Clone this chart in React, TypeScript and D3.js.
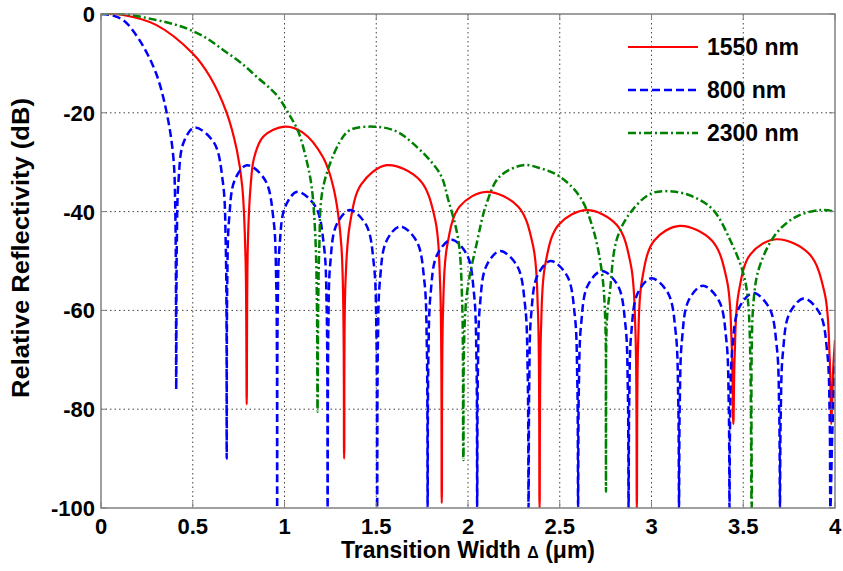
import React from 'react';
import * as d3 from 'd3';

// values: [transition width (um), relative reflectivity (dB)]
const red1550: [number, number][] = [
  [0, 0], [0.12, -0.2], [0.3, -2.2], [0.5, -8], [0.594, -12.7], [0.685, -20], [0.74, -27.5], [0.77, -35], [0.788, -50], [0.794, -79],
  [0.8, -47], [0.815, -35], [0.835, -29], [0.885, -24.8], [1.0, -22.8], [1.1, -24], [1.21, -29], [1.266, -35], [1.31, -47], [1.325, -90],
  [1.332, -54.6], [1.357, -42.4], [1.418, -34.5], [1.557, -30.6], [1.737, -33.6], [1.821, -41.6], [1.848, -54.6], [1.857, -99],
  [1.864, -60], [1.886, -47], [1.954, -39], [2.1, -36], [2.274, -39], [2.355, -47], [2.381, -60], [2.39, -100],
  [2.398, -63.7], [2.421, -50.7], [2.493, -42.7], [2.647, -39.7], [2.811, -42.7], [2.887, -50.7], [2.912, -63.7], [2.92, -100],
  [2.927, -66.9], [2.948, -53.9], [3.014, -45.9], [3.155, -42.9], [3.33, -45.9], [3.411, -53.9], [3.437, -66.9], [3.446, -83],
  [3.453, -69.6], [3.474, -56.6], [3.54, -48.6], [3.68, -45.6], [3.86, -48.6], [3.944, -56.6], [3.971, -69.6], [3.98, -83],
  [3.99, -72], [4.0, -66],
];

const blue800: [number, number][] = [
  [0, 0], [0.05, -0.2], [0.12, -1.2], [0.21, -5.3], [0.3, -12], [0.358, -20], [0.394, -28.9], [0.405, -40], [0.41, -76],
  [0.413, -47], [0.422, -34], [0.45, -26], [0.51, -23], [0.615, -26], [0.664, -34], [0.68, -47], [0.685, -90],
  [0.688, -54.6], [0.698, -41.6], [0.729, -33.6], [0.795, -30.6], [0.894, -33.6], [0.94, -41.6], [0.955, -54.6], [0.96, -100],
  [0.963, -60], [0.973, -47], [1.004, -39], [1.07, -36], [1.169, -39], [1.215, -47], [1.23, -60], [1.235, -100],
  [1.239, -63.7], [1.249, -50.7], [1.283, -42.7], [1.355, -39.7], [1.445, -42.7], [1.487, -50.7], [1.5005, -63.7], [1.505, -100],
  [1.509, -67], [1.52, -54], [1.555, -46], [1.63, -43], [1.72, -46], [1.762, -54], [1.7755, -67], [1.78, -100],
  [1.784, -69.7], [1.796, -56.7], [1.832, -48.7], [1.91, -45.7], [1.994, -48.7], [2.033, -56.7], [2.046, -69.7], [2.05, -100],
  [2.054, -72], [2.065, -59], [2.1, -51], [2.175, -48], [2.268, -51], [2.311, -59], [2.325, -72], [2.33, -100],
  [2.334, -74], [2.344, -61], [2.378, -53], [2.45, -50], [2.54, -53], [2.582, -61], [2.5955, -74], [2.6, -100],
  [2.604, -76], [2.616, -63], [2.652, -55], [2.73, -52], [2.817, -55], [2.858, -63], [2.871, -76], [2.875, -100],
  [2.879, -77.5], [2.89, -64.5], [2.925, -56.5], [3.0, -53.5], [3.09, -56.5], [3.132, -64.5], [3.1455, -77.5], [3.15, -100],
  [3.154, -79], [3.166, -66], [3.202, -58], [3.28, -55], [3.367, -58], [3.408, -66], [3.421, -79], [3.425, -100],
  [3.429, -80.5], [3.441, -67.5], [3.477, -59.5], [3.555, -56.5], [3.642, -59.5], [3.683, -67.5], [3.696, -80.5], [3.7, -100],
  [3.704, -81.6], [3.716, -68.6], [3.752, -60.6], [3.83, -57.6], [3.917, -60.6], [3.958, -68.6], [3.971, -81.6], [3.975, -100],
  [3.985, -85], [4.0, -70],
];

const green2300: [number, number][] = [
  [0, 0], [0.12, 0], [0.3, -1.2], [0.4, -2.1], [0.485, -3.2], [0.58, -5], [0.666, -7.3], [0.76, -9.8], [0.848, -12.7], [0.957, -16.4],
  [1.02, -20], [1.075, -23.8], [1.12, -29.6], [1.148, -35], [1.168, -45], [1.177, -60], [1.18, -80.5],
  [1.189, -48], [1.211, -35], [1.3, -26], [1.357, -23.5], [1.484, -22.8], [1.6, -23.6], [1.7, -26.2], [1.847, -32.3], [1.893, -37.7], [1.947, -45.7], [1.968, -58], [1.975, -90.3],
  [1.99, -58], [2.05, -46], [2.1, -38.5], [2.17, -33], [2.3, -30.6], [2.4, -31.3], [2.5, -32.9], [2.61, -37], [2.683, -43.7], [2.73, -52.4], [2.748, -62], [2.752, -96.7],
  [2.757, -62], [2.774, -55.9], [2.81, -45.7], [2.883, -40.3], [3.0, -36.3], [3.13, -36], [3.24, -37.2], [3.337, -39.7], [3.428, -45.7], [3.5, -52.5], [3.528, -59], [3.546, -100],
  [3.555, -58.6], [3.59, -51], [3.68, -44.4], [3.79, -41], [3.92, -39.7], [4.0, -40],
];

const xTicks = [0, 0.5, 1, 1.5, 2, 2.5, 3, 3.5, 4];
const yTicks = [0, -20, -40, -60, -80, -100];
const legendLabels = ['1550 nm', '800 nm', '2300 nm'];

const W = 843;
const H = 571;
const left = 101, right = 835, top = 14, bottom = 508;
const font = '"Liberation Sans", Arial, sans-serif';

export default function App() {
  const x = d3.scaleLinear().domain([0, 4]).range([left, right]);
  const y = d3.scaleLinear().domain([-100, 0]).range([bottom, top]);

  const line = d3.line<[number, number]>()
    .x(d => x(d[0]))
    .y(d => y(d[1]))
    .curve(d3.curveCatmullRom.alpha(0.5));

  const series = [
    { name: legendLabels[0], data: red1550, color: '#ff0000', dash: undefined, width: 2.2 },
    { name: legendLabels[1], data: blue800, color: '#0000ff', dash: '8,4', width: 2.5 },
    { name: legendLabels[2], data: green2300, color: '#008000', dash: '8,3,2,3', width: 2.5 },
  ];

  return (
    <div style={{ position: 'absolute', left: 0, top: 0 }}>
      <svg width={W} height={H} style={{ display: 'block', background: '#fff' }}>
        <defs>
          <clipPath id="plot">
            <rect x={left} y={top - 1} width={right - left} height={bottom - top + 1} />
          </clipPath>
        </defs>

        {/* grid */}
        {xTicks.slice(1, -1).map(t => (
          <line key={'gx' + t} x1={x(t)} x2={x(t)} y1={top} y2={bottom}
            stroke="#444" strokeWidth={1} strokeDasharray="1.5,3" />
        ))}
        {yTicks.slice(1, -1).map(t => (
          <line key={'gy' + t} x1={left} x2={right} y1={y(t)} y2={y(t)}
            stroke="#444" strokeWidth={1} strokeDasharray="1.5,3" />
        ))}

        {/* curves */}
        <g clipPath="url(#plot)">
          {series.map(s => (
            <path key={s.name} d={line(s.data) || ''} fill="none" stroke={s.color}
              strokeWidth={s.width} strokeDasharray={s.dash} strokeLinejoin="round" />
          ))}
        </g>

        {/* axes box and ticks */}
        <rect x={left} y={top} width={right - left} height={bottom - top} fill="none" stroke="#808080" strokeWidth={1.5} />
        {xTicks.map(t => (
          <g key={'tx' + t}>
            <line x1={x(t)} x2={x(t)} y1={bottom} y2={bottom - 6} stroke="#808080" />
            <line x1={x(t)} x2={x(t)} y1={top} y2={top + 6} stroke="#808080" />
            <text x={x(t)} y={534} textAnchor="middle" fontFamily={font} fontWeight="bold" fontSize={22}>
              {d3.format('')(t)}
            </text>
          </g>
        ))}
        {yTicks.map(t => (
          <g key={'ty' + t}>
            <line x1={left} x2={left + 6} y1={y(t)} y2={y(t)} stroke="#808080" />
            <line x1={right} x2={right - 6} y1={y(t)} y2={y(t)} stroke="#808080" />
            <text x={95} y={y(t) + 8} textAnchor="end" fontFamily={font} fontWeight="bold" fontSize={22}>
              {t}
            </text>
          </g>
        ))}

        {/* axis titles */}
        <text x={(left + right) / 2} y={558} textAnchor="middle" fontFamily={font} fontWeight="bold" fontSize={23}>
          Transition Width <tspan fontSize={16}>Δ</tspan> (μm)
        </text>
        <text transform={`translate(29,248) rotate(-90)`} textAnchor="middle" fontFamily={font} fontWeight="bold" fontSize={23}
          textLength={300} lengthAdjust="spacingAndGlyphs">
          Relative Reflectivity (dB)
        </text>

        {/* legend */}
        {series.map((s, i) => (
          <g key={'lg' + s.name} transform={`translate(0,${47 + i * 43})`}>
            <line x1={628} x2={698} y1={0} y2={0} stroke={s.color} strokeWidth={s.width} strokeDasharray={s.dash} />
            <text x={707} y={8} fontFamily={font} fontWeight="bold" fontSize={23}>{s.name}</text>
          </g>
        ))}
      </svg>
    </div>
  );
}
